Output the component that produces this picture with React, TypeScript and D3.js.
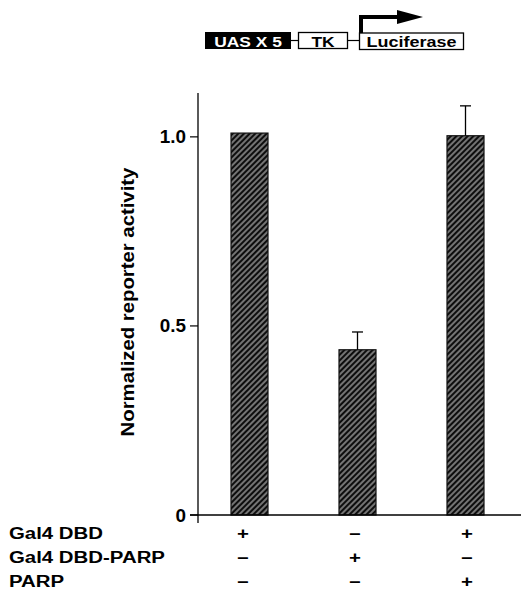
import React from "react";
import * as d3 from "d3";

// conditions (one bar each) and their normalized reporter values
const conditions = ["c1", "c2", "c3"];
const activity = [1.01, 0.437, 1.003];
const errors = [0, 0.047, 0.079];

// y axis ticks
const yTicks = [0, 0.5, 1.0];
const yTickLabels = ["0", "0.5", "1.0"];

// transfection table under the bars
const rowLabels = ["Gal4 DBD", "Gal4 DBD-PARP", "PARP"];
const rowSigns = [
  ["+", "–", "+"],
  ["–", "+", "–"],
  ["–", "–", "+"],
];

const FONT = "'Liberation Sans', Arial, Helvetica, sans-serif";

// bold text stretched sideways a little, like the original scan
const Txt = ({ x, y, size, sx = 1.2, anchor = "start", fill = "#000", rot = 0, children }: any) => (
  <text
    transform={`translate(${x},${y}) rotate(${rot}) scale(${sx},1)`}
    fontFamily={FONT}
    fontWeight="bold"
    fontSize={size}
    textAnchor={anchor}
    fill={fill}
  >
    {children}
  </text>
);

export default function App() {
  const width = 521,
    height = 594;
  const axisX = 198;

  const y = d3.scaleLinear().domain([0, 1.116]).range([515, 93]);
  const x = d3.scalePoint().domain(conditions).range([249.5, 465.5]);
  const signX = d3.scalePoint().domain(conditions).range([243, 467]);
  const barW = 37;
  const rowY = d3.scalePoint().domain(rowLabels).range([539, 587]);

  return (
    <svg
      width={width}
      height={height}
      style={{ position: "absolute", left: 0, top: 0, background: "#fff" }}
    >
      <defs>
        <pattern
          id="hatch"
          width="4"
          height="4"
          patternUnits="userSpaceOnUse"
          patternTransform="rotate(45)"
        >
          <rect width="4" height="4" fill="#0d0d0d" />
          <line x1="1" y1="0" x2="1" y2="4" stroke="#f2f2f2" strokeWidth="0.9" />
        </pattern>
      </defs>

      {/* construct diagram */}
      <g>
        <rect x={205} y={32} width={86} height={17} fill="#000" />
        <Txt x={248} y={46.5} size={14.5} anchor="middle" fill="#fff">UAS X 5</Txt>
        <line x1={291} x2={298} y1={40.5} y2={40.5} stroke="#000" strokeWidth={1.2} />
        <rect x={298.5} y={32.5} width={49} height={16} fill="#fff" stroke="#000" strokeWidth={1.3} />
        <Txt x={323} y={46.5} size={14.5} anchor="middle">TK</Txt>
        <line x1={348} x2={359} y1={40.5} y2={40.5} stroke="#000" strokeWidth={1.2} />
        <rect x={359.5} y={33} width={104} height={16.5} fill="#fff" stroke="#000" strokeWidth={1.3} />
        <Txt x={411.5} y={47} size={14.5} anchor="middle" sx={1.24}>Luciferase</Txt>
        <path d="M361,33 V17 H399" fill="none" stroke="#000" strokeWidth={4} />
        <path d="M397,10 L423,17 L397,24 Z" fill="#000" />
      </g>

      {/* y axis */}
      <line x1={axisX} x2={axisX} y1={93} y2={523} stroke="#000" strokeWidth={1.3} />
      {yTicks.map((t, i) => (
        <g key={t}>
          <line x1={axisX - 8} x2={axisX} y1={y(t)} y2={y(t)} stroke="#000" strokeWidth={1.2} />
          <Txt x={axisX - 12} y={y(t) + 6.5} size={17.5} sx={1.08} anchor="end">
            {yTickLabels[i]}
          </Txt>
        </g>
      ))}
      <Txt x={134} y={302} size={18} sx={1.13} rot={-90} anchor="middle">
        Normalized reporter activity
      </Txt>

      {/* bars */}
      {conditions.map((c, i) => (
        <rect
          key={c}
          x={(x(c) as number) - barW / 2}
          y={y(activity[i])}
          width={barW}
          height={y(0) - y(activity[i])}
          fill="url(#hatch)"
          stroke="#111"
          strokeWidth={1.2}
        />
      ))}

      {/* error bars */}
      {conditions.map((c, i) =>
        errors[i] > 0 ? (
          <g key={c} stroke="#000" strokeWidth={1.3}>
            <line
              x1={x(c) as number}
              x2={x(c) as number}
              y1={y(activity[i])}
              y2={y(activity[i] + errors[i])}
            />
            <line
              x1={(x(c) as number) - 5.5}
              x2={(x(c) as number) + 5.5}
              y1={y(activity[i] + errors[i])}
              y2={y(activity[i] + errors[i])}
            />
          </g>
        ) : null
      )}

      {/* x axis */}
      <line x1={axisX - 8} x2={width} y1={y(0)} y2={y(0)} stroke="#000" strokeWidth={1.3} />

      {/* transfection table */}
      {rowLabels.map((r, ri) => (
        <g key={r}>
          <Txt x={9} y={rowY(r) as number} size={17} sx={1.2}>
            {r}
          </Txt>
          {conditions.map((c, ci) => (
            <Txt key={c} x={signX(c) as number} y={rowY(r) as number} size={17} sx={1.2} anchor="middle">
              {rowSigns[ri][ci]}
            </Txt>
          ))}
        </g>
      ))}
    </svg>
  );
}
